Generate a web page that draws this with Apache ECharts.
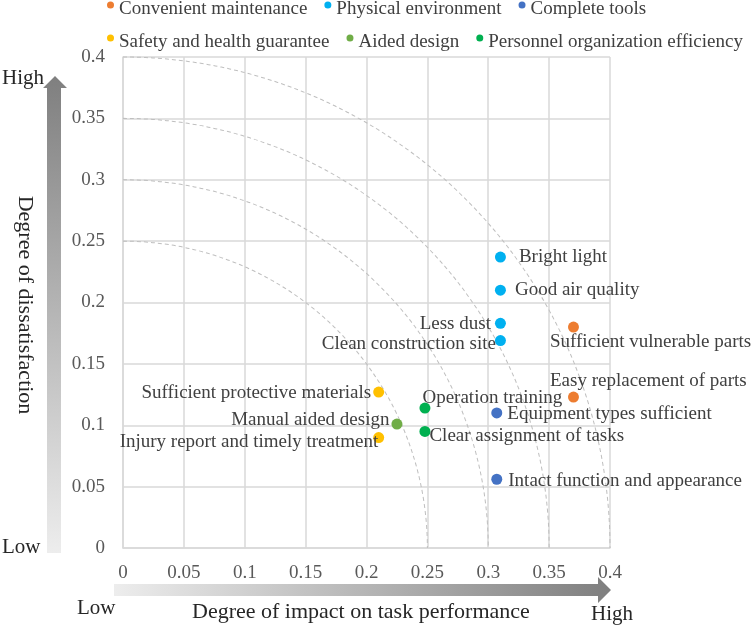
<!DOCTYPE html>
<html><head><meta charset="utf-8">
<script src="https://cdn.jsdelivr.net/npm/echarts@6/dist/echarts.min.js"></script>
<style>html,body{margin:0;padding:0;background:#fff}#c{width:751px;height:627px}</style>
</head><body><div id="c"></div>
<script>
// ---- data ----
const groups = ['Convenient maintenance','Physical environment','Complete tools','Safety and health guarantee','Aided design','Personnel organization efficiency'];
const convenientMaintenance = [['Sufficient vulnerable parts',0.370,0.180],['Easy replacement of parts',0.370,0.123]];
const physicalEnvironment = [['Bright light',0.310,0.237],['Good air quality',0.310,0.210],['Less dust',0.310,0.183],['Clean construction site',0.310,0.169]];
const completeTools = [['Equipment types sufficient',0.307,0.110],['Intact function and appearance',0.307,0.056]];
const safetyHealth = [['Sufficient protective materials',0.210,0.127],['Injury report and timely treatment',0.210,0.090]];
const aidedDesign = [['Manual aided design',0.225,0.101]];
const personnelEfficiency = [['Operation training',0.248,0.114],['Clear assignment of tasks',0.248,0.095]];
const arcRadii = [0.25,0.30,0.35,0.40];
const xTicks = [0,0.05,0.1,0.15,0.2,0.25,0.3,0.35,0.4];
const yTicks = [0,0.05,0.1,0.15,0.2,0.25,0.3,0.35,0.4];

// ---- styles ----
const colors = ['#ED7D31','#00B0F0','#4472C4','#FFC000','#70AD47','#00B050'];
const FONT = '"Liberation Serif", "Times New Roman", serif';
const labelPlace = {
  'Sufficient vulnerable parts': {position:'right', distance:5, offset:[-34,15]},
  'Easy replacement of parts': {position:'right', distance:5, offset:[-34,-16]},
  'Bright light': {position:'right', distance:13, offset:[0,0]},
  'Good air quality': {position:'right', distance:9, offset:[0,0]},
  'Less dust': {position:'left', distance:4, offset:[0,1]},
  'Clean construction site': {position:'left', distance:0, offset:[1,3]},
  'Equipment types sufficient': {position:'right', distance:5, offset:[0,1]},
  'Intact function and appearance': {position:'right', distance:6, offset:[0,2]},
  'Sufficient protective materials': {position:'left', distance:2, offset:[0,1]},
  'Injury report and timely treatment': {position:'left', distance:0, offset:[5,4]},
  'Manual aided design': {position:'left', distance:2, offset:[0,-4]},
  'Operation training': {position:'right', distance:5, offset:[-13,-10]},
  'Clear assignment of tasks': {position:'right', distance:5, offset:[-6,5]}
};
const allData = [convenientMaintenance, physicalEnvironment, completeTools, safetyHealth, aidedDesign, personnelEfficiency];

const chart = echarts.init(document.getElementById('c'), null, {renderer:'canvas'});
const G = {left:123, top:57, width:487, height:491};

const scatterSeries = allData.map((arr, i) => ({
  name: groups[i], type:'scatter', symbolSize:11, z:5,
  itemStyle:{color:colors[i], opacity:1},
  data: arr.map(d => ({
    name:d[0], value:[d[1], d[2]],
    label:Object.assign({show:true, formatter:'{b}', color:'#404040', fontFamily:FONT, fontSize:19}, labelPlace[d[0]])
  }))
}));

const arcSeries = {
  type:'custom', silent:true, z:2,
  data: arcRadii.map(r => [r]),
  renderItem: function(params, api){
    const r = api.value(0);
    const c = api.coord([0,0]);
    const px = api.coord([r,0])[0] - c[0];
    const py = c[1] - api.coord([0,r])[1];
    return {
      type:'arc', x:c[0], y:c[1], scaleX:1, scaleY:py/px,
      shape:{cx:0, cy:0, r:px, startAngle:-Math.PI/2, endAngle:0, clockwise:true},
      style:{fill:null, stroke:'#bfbfbf', lineWidth:1, lineDash:[4,3]}
    };
  }
};

function arrowGrad(x1,y1,x2,y2){
  return new echarts.graphic.LinearGradient(x1,y1,x2,y2,[{offset:0,color:'#ededed'},{offset:1,color:'#7f7f7f'}]);
}
// raised dot icon: circle at top of a taller invisible box
const raisedDot = 'path://M0 16 M3.5 0 A3.5 3.5 0 1 1 3.5 7 A3.5 3.5 0 1 1 3.5 0 Z';
const legendBase = {icon:raisedDot, itemWidth:7, itemHeight:16, itemGap:17, padding:0,
  textStyle:{fontFamily:FONT, fontSize:19, color:'#404040'}};

const option = {
  backgroundColor:'#fff',
  animation:false,
  color:colors,
  grid:{left:G.left, top:G.top, width:G.width, height:G.height, containLabel:false},
  legend:[
    Object.assign({data:groups.slice(0,3), left:107, top:0}, legendBase),
    Object.assign({data:groups.slice(3), left:107, top:33}, legendBase)
  ],
  xAxis:{type:'value', min:0, max:0.4, interval:0.05,
    axisLine:{show:true, lineStyle:{color:'#d9d9d9', width:1.5}}, axisTick:{show:false},
    splitLine:{show:true, lineStyle:{color:'#d9d9d9', width:1.5}},
    axisLabel:{color:'#595959', fontFamily:FONT, fontSize:19, margin:16,
      formatter:v=>{const t=xTicks.find(k=>Math.abs(k-v)<1e-9); return t===undefined?'':String(t);}}},
  yAxis:{type:'value', min:0, max:0.4, interval:0.05,
    axisLine:{show:true, lineStyle:{color:'#d9d9d9', width:1.5}}, axisTick:{show:false},
    splitLine:{show:true, lineStyle:{color:'#d9d9d9', width:1.5}},
    axisLabel:{color:'#595959', fontFamily:FONT, fontSize:19, margin:18,
      formatter:v=>{const t=yTicks.find(k=>Math.abs(k-v)<1e-9); return t===undefined?'':String(t);}}},
  graphic:[
    // vertical arrow
    {type:'polygon', shape:{points:[[47,553],[47,88],[43,88],[55,76],[67,88],[61,88],[61,553]]},
     style:{fill:arrowGrad(0,1,0,0)}},
    // horizontal arrow
    {type:'polygon', shape:{points:[[114,584],[598,584],[598,577],[611,590],[598,603],[598,596],[114,596]]},
     style:{fill:arrowGrad(0,0,1,0)}},
    {type:'text', x:2, y:78, style:{text:'High', font:'21px '+FONT, fill:'#262626', verticalAlign:'middle'}},
    {type:'text', x:2, y:547, style:{text:'Low', font:'21px '+FONT, fill:'#262626', verticalAlign:'middle'}},
    {type:'text', x:25, y:305, rotation:-Math.PI/2, style:{text:'Degree of dissatisfaction', font:'22px '+FONT, fill:'#262626', align:'center', verticalAlign:'middle'}},
    {type:'text', x:77, y:608, style:{text:'Low', font:'21px '+FONT, fill:'#262626', verticalAlign:'middle'}},
    {type:'text', x:192, y:612, style:{text:'Degree of impact on task performance', font:'22px '+FONT, fill:'#262626', verticalAlign:'middle'}},
    {type:'text', x:591, y:614, style:{text:'High', font:'21px '+FONT, fill:'#262626', verticalAlign:'middle'}}
  ],
  series:[arcSeries].concat(scatterSeries)
};
chart.setOption(option);
</script>
</body></html>
